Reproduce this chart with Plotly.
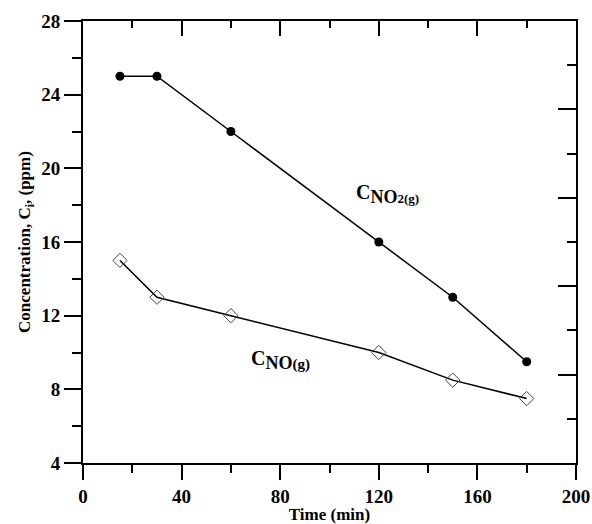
import plotly.graph_objects as go

time_min = [15, 30, 60, 120, 150, 180]
c_no2 = [25, 25, 22, 16, 13, 9.5]
c_no = [15, 13, 12, 10, 8.5, 7.5]

x_ticks = [0, 40, 80, 120, 160, 200]
y_ticks = [4, 8, 12, 16, 20, 24, 28]

FONT = "Liberation Serif"

fig = go.Figure()
fig.add_trace(go.Scatter(
    x=time_min, y=c_no2, mode="lines+markers",
    line=dict(color="black", width=1.5),
    marker=dict(symbol="circle", size=9, color="black"),
    showlegend=False, hoverinfo="skip"))
fig.add_trace(go.Scatter(
    x=time_min, y=c_no, mode="lines+markers",
    line=dict(color="black", width=1.5),
    marker=dict(symbol="diamond-open", size=11, color="#444", line=dict(width=1)),
    showlegend=False, hoverinfo="skip"))
# frame axes (top/right) carrier
fig.add_trace(go.Scatter(x=[None], y=[None], xaxis="x2", yaxis="y2",
                         showlegend=False, hoverinfo="skip"))

tickfont = dict(family=FONT, size=19, color="black")

fig.update_layout(
    width=592, height=524,
    margin=dict(l=83, r=16, t=21, b=61, autoexpand=False),
    paper_bgcolor="white", plot_bgcolor="white",
    font=dict(family=FONT, color="black"),
    xaxis=dict(range=[0, 200], tickvals=x_ticks, ticktext=["<b>%d</b>" % v for v in x_ticks],
               ticks="outside", ticklen=15, tickwidth=1.5, tickcolor="black",
               minor=dict(dtick=20, tick0=0, ticks="outside", ticklen=8, tickwidth=1.5, tickcolor="black"),
               showline=True, linecolor="black", linewidth=2, showgrid=False, zeroline=False,
               tickfont=tickfont, automargin=False,
               title=dict(text="<b>Time (min)</b>", font=dict(family=FONT, size=17, color="black"), standoff=0)),
    yaxis=dict(range=[4, 28], tickvals=y_ticks, ticktext=["<b>%d</b>" % v for v in y_ticks],
               ticks="outside", ticklen=17, tickwidth=1.5, tickcolor="black",
               minor=dict(dtick=2, tick0=0, ticks="outside", ticklen=9, tickwidth=1.5, tickcolor="black"),
               showline=True, linecolor="black", linewidth=2, showgrid=False, zeroline=False,
               tickfont=tickfont, automargin=False,
               title=dict(text="<b>Concentration, C<sub>i</sub>, (ppm)</b>",
                          font=dict(family=FONT, size=17, color="black"), standoff=6)),
    xaxis2=dict(overlaying="x", side="top", range=[0, 200], dtick=40, tick0=0,
                ticks="inside", ticklen=15, tickwidth=1.5, tickcolor="black",
                minor=dict(dtick=20, tick0=0, ticks="inside", ticklen=7, tickwidth=1.5, tickcolor="black"),
                showticklabels=False, showline=True, linecolor="black", linewidth=2,
                showgrid=False, zeroline=False, automargin=False),
    yaxis2=dict(overlaying="y", side="right", range=[0, 10], dtick=2, tick0=0,
                ticks="inside", ticklen=18, tickwidth=1.5, tickcolor="black",
                minor=dict(dtick=1, tick0=0, ticks="inside", ticklen=9, tickwidth=1.5, tickcolor="black"),
                showticklabels=False, showline=True, linecolor="black", linewidth=2,
                showgrid=False, zeroline=False, automargin=False),
)

fig.add_annotation(x=123.5, y=18.6, xref="x", yref="y", showarrow=False,
                   text="<b>C<sub><span style='font-size:18px'>NO</span><span style='font-size:13px'>2(g)</span></sub></b>",
                   font=dict(family=FONT, size=20, color="black"))
fig.add_annotation(x=80, y=9.6, xref="x", yref="y", showarrow=False,
                   text="<b>C<sub><span style='font-size:18px'>NO</span><span style='font-size:15px'>(g)</span></sub></b>",
                   font=dict(family=FONT, size=20, color="black"))

fig.write_html("out.html", config={"displayModeBar": False},
               post_script="document.body.style.margin='0';document.body.style.overflow='hidden';")
